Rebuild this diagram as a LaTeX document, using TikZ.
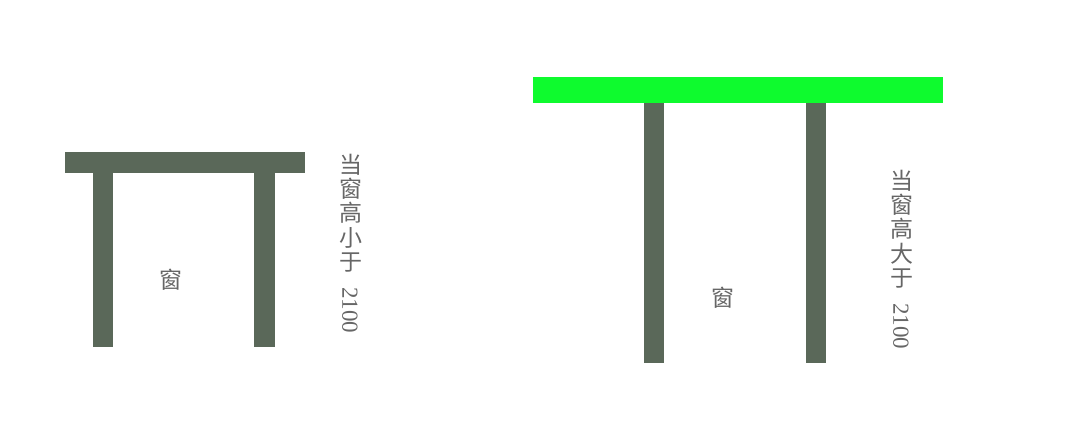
\documentclass[tikz,border=0pt]{standalone}
\usepackage{fontspec}
\newfontfamily\cjk{Noto Sans CJK SC}
\newfontfamily\digitfont{Liberation Serif}
\definecolor{wall}{HTML}{5A6859}
\definecolor{beam}{HTML}{0EFB2E}
\definecolor{txt}{HTML}{666666}
\tikzset{
  wallpart/.style={fill=wall},
  beampart/.style={fill=beam},
  cjkch/.style={inner sep=0pt, text=txt, font=\cjk\fontsize{23}{24}\selectfont},
  digits/.style={inner sep=0pt, text=txt, rotate=-90, font=\digitfont\fontsize{23}{24}\selectfont},
}
\begin{document}
\begin{tikzpicture}[x=1pt,y=-1pt]
\useasboundingbox (0,0) rectangle (1077,437);
% left: window height < 2100
\fill[wallpart] (65,152) rectangle (305,173);
\fill[wallpart] (93,173) rectangle (113,347);
\fill[wallpart] (254,173) rectangle (275,347);
\node[cjkch] (lwin) at (171,280) {窗};
\node[cjkch] (l1) at (351,165) {当};
\node[cjkch] (l2) at (351,189) {窗};
\node[cjkch] (l3) at (351,213) {高};
\node[cjkch] (l4) at (351,238) {小};
\node[cjkch] (l5) at (351,263) {于};
\node[digits] (ln) at (350,310) {2100};
% right: window height > 2100
\fill[beampart] (533,77) rectangle (943,103);
\fill[wallpart] (644,103) rectangle (664,363);
\fill[wallpart] (806,103) rectangle (826,363);
\node[cjkch] (rwin) at (723,298) {窗};
\node[cjkch] (r1) at (902,181) {当};
\node[cjkch] (r2) at (902,205) {窗};
\node[cjkch] (r3) at (902,229) {高};
\node[cjkch] (r4) at (902,254) {大};
\node[cjkch] (r5) at (902,279) {于};
\node[digits] (rn) at (901,326) {2100};
\end{tikzpicture}
\end{document}
